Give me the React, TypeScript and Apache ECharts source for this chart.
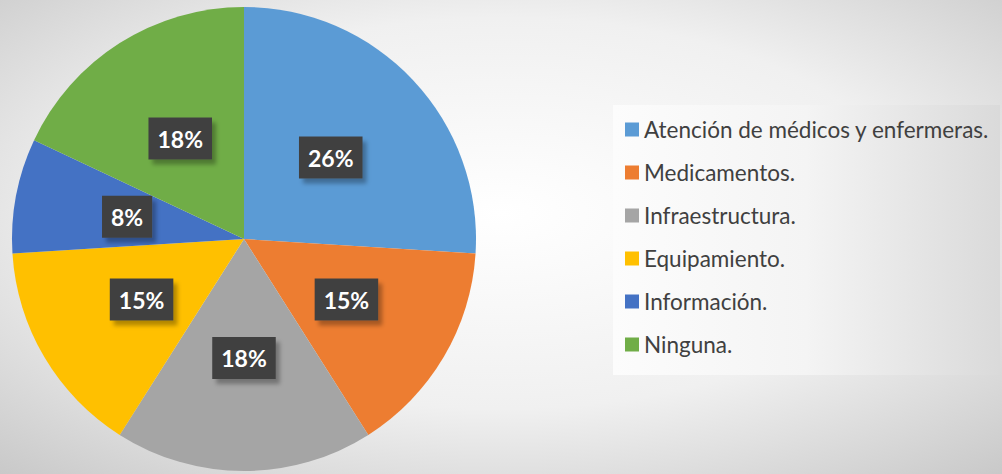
import React, { useEffect, useRef } from "react";
import * as echarts from "echarts";

const categories = [
  "Atención de médicos y enfermeras.",
  "Medicamentos.",
  "Infraestructura.",
  "Equipamiento.",
  "Información.",
  "Ninguna.",
];
const values = [26, 15, 18, 15, 8, 18];
const colors = ["#5B9BD5", "#ED7D31", "#A5A5A5", "#FFC000", "#4472C4", "#70AD47"];

export default function App() {
  const ref = useRef<HTMLDivElement>(null);
  useEffect(() => {
    document.body.style.margin = "0";
    const chart = echarts.init(ref.current!, null, { renderer: "svg" });
    chart.setOption({
      animation: false,
      backgroundColor: new echarts.graphic.RadialGradient(0.5, 0.45, 0.75, [
        { offset: 0, color: "#ffffff" },
        { offset: 0.55, color: "#f0f0f0" },
        { offset: 1, color: "#c8c8c8" },
      ]),
      color: colors,
      graphic: [
        {
          type: "rect",
          z: 0,
          shape: { x: 613, y: 105, width: 387, height: 270 },
          style: {
            fill: new echarts.graphic.LinearGradient(0, 0, 1, 0, [
              { offset: 0, color: "#fcfcfc" },
              { offset: 0.5, color: "#f4f4f4" },
              { offset: 1, color: "#dadada" },
            ]),
          },
        },
      ],
      legend: {
        orient: "vertical",
        left: 620,
        top: 113,
        itemWidth: 14,
        itemHeight: 14,
        itemGap: 20,
        icon: "rect",
        textStyle: {
          color: "#404040",
          fontFamily: "Lato",
          fontSize: 22.5,
          lineHeight: 22,
        },
        data: categories,
      },
      series: [
        {
          type: "pie",
          center: [244, 239],
          radius: 232,
          startAngle: 90,
          clockwise: true,
          label: {
            show: true,
            position: "inside",
            formatter: "{c}%",
            color: "#ffffff",
            fontFamily: "Lato",
            fontWeight: "bold",
            fontSize: 23,
            backgroundColor: "#404040",
            padding: [10, 9, 9, 9],
            shadowColor: "rgba(0,0,0,0.3)",
            shadowBlur: 4,
            shadowOffsetX: 4,
            shadowOffsetY: 5,
          },
          labelLine: { show: false },
          itemStyle: { borderWidth: 0 },
          emphasis: { disabled: true },
          data: categories.map((name, i) => ({ name, value: values[i] })),
        },
      ],
    });
    return () => chart.dispose();
  }, []);
  return <div ref={ref} style={{ width: 1002, height: 474 }} />;
}
